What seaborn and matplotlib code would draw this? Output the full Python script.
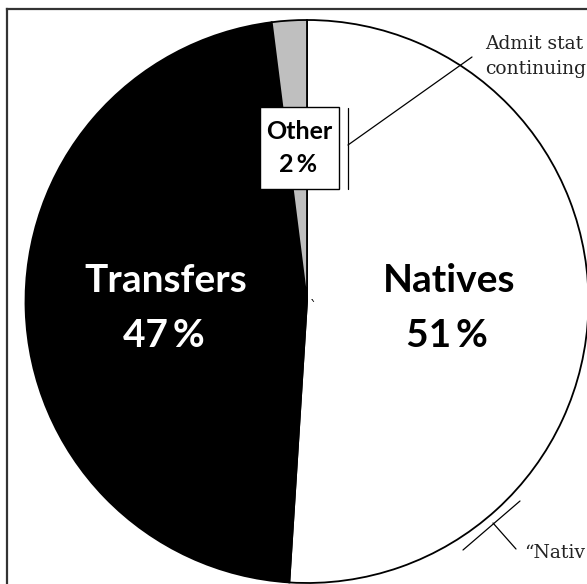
import matplotlib
matplotlib.use("Agg")
import matplotlib.pyplot as plt
import seaborn as sns
from matplotlib.patches import Rectangle
from matplotlib.lines import Line2D

# Share of admitted students by admit status
categories = ["Natives", "Transfers", "Other"]
shares = [51, 47, 2]
slice_colors = ["#ffffff", "#000000", "#bfbfbf"]
label_colors = ["#000000", "#ffffff", "#000000"]

sns.set_theme(style="white")
plt.rcParams["font.family"] = ["Lato", "DejaVu Sans"]

W, H = 587, 584
fig = plt.figure(figsize=(W / 100, H / 100), dpi=100)
ax = fig.add_axes([0, 0, 1, 1])


def px(x, y):
    """Convert image-style pixel coordinates (origin top-left) to axes data."""
    return x, H - y


cx, cy = px(307, 301.5)
ax.pie(
    shares,
    colors=slice_colors,
    startangle=90,
    counterclock=False,
    center=(cx, cy),
    radius=281.5,
    wedgeprops=dict(edgecolor="black", linewidth=1.3),
    frame=True,
)
ax.set_xlim(0, W)
ax.set_ylim(0, H)
ax.set_aspect("auto")
ax.axis("off")

# Big slice labels
bold = dict(fontweight="bold", ha="center", va="baseline", zorder=5)
for name, val, col, (x, y1, y2) in zip(
    categories[:2], shares[:2], label_colors[:2],
    [(449, 292, 347), (166, 292, 347)],
):
    ax.text(*px(x, y1), name, color=col, fontsize=28, **bold)
    ax.text(*px(x - 2, y2), f"{val}\u2009%", color=col, fontsize=28, **bold)

# Boxed label for the small slice
bx0, by0 = px(260, 189)
ax.add_patch(Rectangle((bx0, by0), 79, 82, facecolor="white",
                       edgecolor="black", linewidth=1.0, zorder=4))
ax.text(*px(299, 139), categories[2], color=label_colors[2], fontsize=18, **bold)
ax.text(*px(298, 172), f"{shares[2]}\u2009%", color=label_colors[2], fontsize=18, **bold)

# Callout for the small slice
line_kw = dict(color="black", linewidth=0.9, zorder=5)
ax.add_line(Line2D([348, 348], [H - 108, H - 189], **line_kw))
ax.add_line(Line2D([348, 472], [H - 145, H - 57], **line_kw))
serif = dict(family="DejaVu Serif", color="#222222", ha="left", va="baseline")
ax.text(*px(485, 49), "Admit stat", fontsize=13.5, **serif)
ax.text(*px(485, 74), "continuing", fontsize=13.5, **serif)

# Callout along the natives arc
ax.add_line(Line2D([463, 520], [H - 550, H - 501], **line_kw))
ax.add_line(Line2D([493, 516], [H - 523, H - 549], **line_kw))
ax.text(*px(524, 558), "\u201cNativ", fontsize=13.5, **serif)

ax.text(*px(313, 311), "`", family="DejaVu Serif", fontsize=10,
        color="black", ha="center", va="baseline")

# Panel frame (top and left edges)
frame_kw = dict(color="#333333", linewidth=1.6, zorder=6, solid_capstyle="projecting")
ax.add_line(Line2D([7, 7], [H - 9, 0], **frame_kw))
ax.add_line(Line2D([7, W], [H - 9, H - 9], **frame_kw))

fig.savefig("out.png", dpi=100, facecolor="white")
